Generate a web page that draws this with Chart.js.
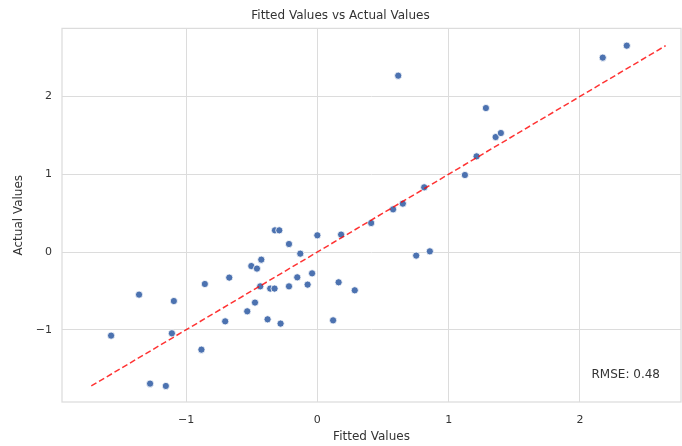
<!DOCTYPE html>
<html>
<head>
<meta charset="utf-8">
<script src="https://cdn.jsdelivr.net/npm/chart.js@4"></script>
<style>
html,body{margin:0;padding:0;background:#fff;}
#wrap{width:682px;height:446px;}
</style>
</head>
<body>
<div id="wrap"><canvas id="c" width="682" height="446"></canvas></div>
<script>
const fittedValues = [-1.571,-1.358,-1.274,-1.154,-1.108,-1.093,-0.883,-0.857,-0.702,-0.671,-0.534,-0.503,-0.475,-0.460,-0.435,-0.427,-0.379,-0.359,-0.326,-0.323,-0.290,-0.280,-0.216,-0.216,-0.153,-0.130,-0.074,-0.040,0.000,0.120,0.162,0.181,0.285,0.410,0.616,0.577,0.651,0.753,0.814,0.857,1.124,1.213,1.284,1.358,1.398,2.174,2.357];
const actualValues = [-1.075,-0.548,-1.692,-1.722,-1.045,-0.630,-1.255,-0.411,-0.891,-0.329,-0.762,-0.180,-0.650,-0.213,-0.441,-0.098,-0.865,-0.470,-0.470,0.279,0.279,-0.920,0.103,-0.441,-0.325,-0.021,-0.419,-0.274,0.215,-0.878,-0.389,0.224,-0.492,0.373,2.267,0.549,0.622,-0.046,0.832,0.009,0.990,1.230,1.851,1.478,1.530,2.499,2.653];
const refLine = [-1.722, 2.653];
const xTicks = [-1, 0, 1, 2];
const yTicks = [-1, 0, 1, 2];
const titleText = "Fitted Values vs Actual Values";
const xLabel = "Fitted Values";
const yLabel = "Actual Values";
const rmseLabel = "RMSE: 0.48";

const FONT = "'DejaVu Sans', sans-serif";
const TXT = '#333333';
const GRID = '#dcdcdc';
const fmt = v => (v < 0 ? '\u2212' + Math.abs(v) : String(v));

const frame = {
  id: 'frame',
  afterDatasetsDraw(chart) {
    const {ctx, chartArea: a} = chart;
    ctx.save();
    ctx.strokeStyle = GRID;
    ctx.lineWidth = 1.25;
    ctx.strokeRect(a.left, a.top, a.right - a.left, a.bottom - a.top);
    ctx.fillStyle = TXT;
    ctx.font = "12px " + FONT;
    ctx.textAlign = 'right';
    ctx.textBaseline = 'middle';
    ctx.fillText(rmseLabel, a.right - 21, a.bottom - 27);
    ctx.restore();
  }
};

new Chart(document.getElementById('c'), {
  type: 'scatter',
  data: {
    datasets: [
      {
        data: refLine.map(v => ({x: v, y: v})),
        showLine: true,
        borderColor: 'rgba(255,0,0,0.8)',
        borderWidth: 1.5,
        borderDash: [6, 3],
        pointRadius: 0,
        fill: false,
        order: 1
      },
      {
        data: fittedValues.map((v, i) => ({x: v, y: actualValues[i]})),
        backgroundColor: '#4C72B0',
        borderColor: '#ffffff',
        borderWidth: 0.8,
        pointRadius: 3.6,
        order: 2
      }
    ]
  },
  options: {
    responsive: false,
    animation: false,
    layout: {autoPadding: false, padding: {left: 0, right: 1, top: 0, bottom: 0}},
    plugins: {
      legend: {display: false},
      tooltip: {enabled: false},
      title: {
        display: true,
        text: titleText,
        color: TXT,
        font: {family: FONT, size: 12, weight: 'normal'},
        padding: {top: 9, bottom: 5}
      }
    },
    scales: {
      x: {
        type: 'linear',
        min: -1.945, max: 2.77,
        afterBuildTicks: s => { s.ticks = xTicks.map(v => ({value: v})); },
        afterFit: s => { s.height = 44; s.paddingLeft = 0; s.paddingRight = 0; },
        grid: {color: GRID, lineWidth: 1, drawTicks: false},
        border: {display: false},
        ticks: {color: TXT, font: {family: FONT, size: 11}, padding: 12, callback: v => fmt(v)},
        title: {display: true, text: xLabel, color: TXT, font: {family: FONT, size: 12}, padding: {top: 0, bottom: 2}}
      },
      y: {
        type: 'linear',
        min: -1.928, max: 2.875,
        afterBuildTicks: s => { s.ticks = yTicks.map(v => ({value: v})); },
        afterFit: s => { s.width = 62; s.paddingTop = 0; s.paddingBottom = 0; },
        grid: {color: GRID, lineWidth: 1, drawTicks: false},
        border: {display: false},
        ticks: {color: TXT, font: {family: FONT, size: 11}, padding: 10, callback: v => fmt(v)},
        title: {display: true, text: yLabel, color: TXT, font: {family: FONT, size: 12}, padding: {top: 12, bottom: 0}}
      }
    }
  },
  plugins: [frame]
});
</script>
</body>
</html>
